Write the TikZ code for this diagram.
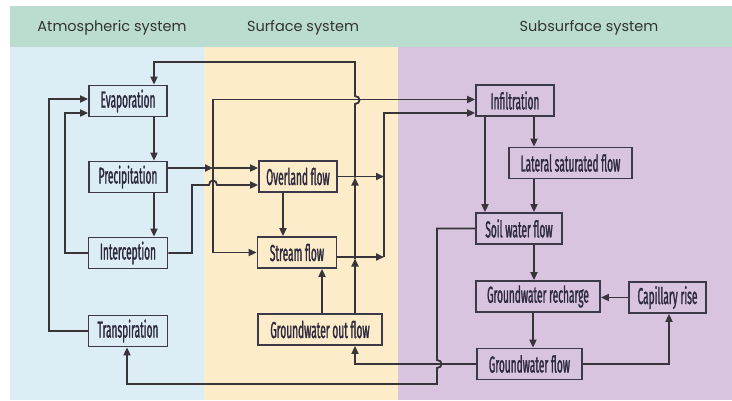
\documentclass[tikz,border=0pt]{standalone}
\usepackage{fontspec}
\setmainfont{Poppins}
\newfontfamily\boxfont[FakeStretch=0.44, FakeBold=1.2]{Fira Sans}
\usetikzlibrary{arrows.meta}
\definecolor{headgreen}{RGB}{186,221,207}
\definecolor{atmoblue}{RGB}{221,237,245}
\definecolor{surfyellow}{RGB}{253,236,202}
\definecolor{subpurple}{RGB}{216,196,222}
\definecolor{boxline}{RGB}{60,58,72}
\definecolor{boxtext}{RGB}{45,42,62}
\definecolor{flowline}{RGB}{55,52,58}

\tikzset{
  sysbox/.style={draw=boxline, line width=1.8pt, inner sep=0pt, minimum height=31pt,
    font=\boxfont\fontsize{23}{23}\selectfont, text=boxtext},
  flow/.style={draw=flowline, line width=1.8pt},
  flowtip/.style={flow, -{Triangle[length=8pt,width=7pt]}},
  systitle/.style={font=\fontsize{14.5}{14.5}\selectfont, text=black!80}
}

\begin{document}
\begin{tikzpicture}[x=1pt, y=-1pt]
\useasboundingbox (0,0) rectangle (732,400);

% Background columns and header band
\fill[white] (0,0) rectangle (732,400);
\fill[atmoblue]   (10,47) rectangle (204,400);
\fill[surfyellow] (204,47) rectangle (398,400);
\fill[subpurple]  (398,47) rectangle (732,400);
\fill[headgreen]  (10,6) rectangle (732,47);

% Column titles
\node[systitle] (tatmo) at (112,28) {Atmospheric system};
\node[systitle] (tsurf) at (303,28) {Surface system};
\node[systitle] (tsub)  at (589,28) {Subsurface system};

% Atmospheric boxes
\node[sysbox, minimum width=78pt] (evap)     at (128,101) {Evaporation};
\node[sysbox, minimum width=78pt] (precip)   at (128,177) {Precipitation};
\node[sysbox, minimum width=79pt] (intercep) at (128,253) {Interception};
\node[sysbox, minimum width=79pt] (transp)   at (128,331) {Transpiration};

% Surface boxes
\node[sysbox, minimum width=78pt]  (overland) at (298,176.5) {Overland flow};
\node[sysbox, minimum width=79pt]  (stream)   at (297,252.5) {Stream flow};
\node[sysbox, minimum width=124pt] (gwout)    at (320,329.5) {Groundwater out flow};

% Subsurface boxes
\node[sysbox, minimum width=78pt]  (infil)    at (515,100.5) {Infiltration};
\node[sysbox, minimum width=123pt] (lateral)  at (570.5,163) {Lateral saturated flow};
\node[sysbox, minimum width=86pt]  (soil)     at (519,228.5) {Soil water flow};
\node[sysbox, minimum width=124pt] (recharge) at (538,296.5) {Groundwater recharge};
\node[sysbox, minimum width=77pt]  (capil)    at (667.5,297.5) {Capillary rise};
\node[sysbox, minimum width=105pt] (gwflow)   at (529.5,364) {Groundwater flow};

% Bus points
\coordinate (pbus) at (213,168);
\coordinate (rbus) at (384,257);

% Atmospheric links
\draw[flowtip] ([xshift=26pt]evap.south) -- ([xshift=26pt]precip.north);
\draw[flowtip] ([xshift=26pt]precip.south) -- ([xshift=26pt]intercep.north);
\draw[flowtip] (transp.west) -- ++(-39,0) |- ([yshift=2pt]evap.west);
\draw[flowtip] (intercep.west) -- ++(-23,0) |- ([yshift=-12pt]evap.west);

% Precipitation to surface and infiltration
\draw[flowtip] ([yshift=9pt]precip.east) -- (pbus);
\draw[flowtip] (pbus) -- (pbus -| overland.west);
\draw[flowtip] (pbus) |- ([yshift=1pt]infil.west);
\draw[flowtip] (pbus) |- (stream.west);

% Interception to overland flow (jump over bus)
\draw[flowtip] (intercep.east) -- (192,253) -- (192,185) -- (209,185)
  .. controls (209,179) and (217,179) .. (217,185) -- ([yshift=-8.5pt]overland.west);

% Surface links
\draw[flowtip] ([xshift=-15pt]overland.south) -- ([xshift=-14pt]stream.north);
\draw[flowtip] ([xshift=2pt]gwout.north) -- ([xshift=25pt]stream.south);
\draw[flowtip] (overland.east) -- (overland.east -| rbus);
\draw[flowtip] ([yshift=-4.5pt]stream.east) -- (rbus);
\draw[flowtip] (rbus) |- ([yshift=-12.5pt]infil.west);

% Groundwater out flow back to evaporation
\draw[flowtip] ([xshift=35pt]gwout.north) -- (355,258.5);
\draw[flowtip] (355,258.5) -- (355,177.5);
\draw[flowtip] (355,177.5) -- (355,104) .. controls (361,104) and (361,96) .. (355,96)
  -- (355,62) -| ([xshift=26pt]evap.north);

% Subsurface links
\draw[flowtip] ([xshift=-30pt]infil.south) -- ([xshift=-34pt]soil.north);
\draw[flowtip] ([xshift=19pt]infil.south) -- ([xshift=-36.5pt]lateral.north);
\draw[flowtip] ([xshift=-36.5pt]lateral.south) -- ([xshift=15pt]soil.north);
\draw[flowtip] ([xshift=15pt]soil.south) -- ([xshift=-4pt]recharge.north);
\draw[flowtip] ([xshift=-5pt]recharge.south) -- ([xshift=3.5pt]gwflow.north);
\draw[flowtip] (capil.west) -- (capil.west -| recharge.east);
\draw[flowtip] (gwflow.east) -| ([xshift=1.5pt]capil.south);

% Groundwater flow to out flow, soil water to transpiration
\draw[flowtip] (gwflow.west) -| ([xshift=35pt]gwout.south);
\draw[flowtip] (soil.west) -- (437,228.5) -- (437,360)
  .. controls (443,360) and (443,368) .. (437,368) -- (437,384) -| ([xshift=-1pt]transp.south);

\end{tikzpicture}
\end{document}
